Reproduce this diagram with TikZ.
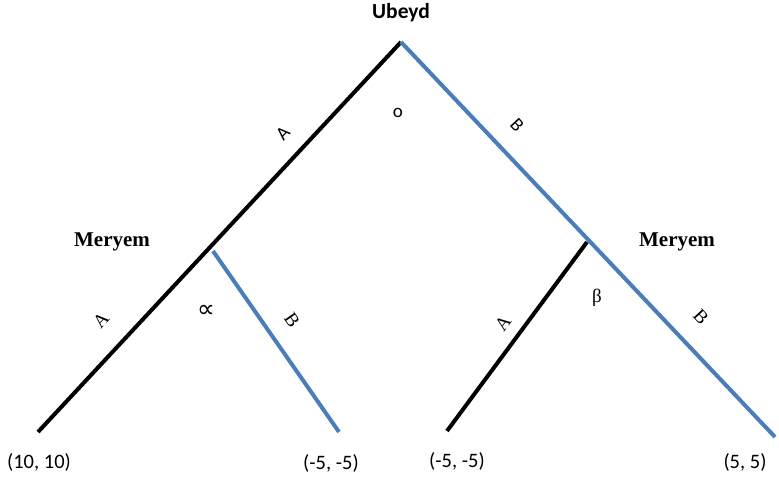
\documentclass[tikz,border=0pt]{standalone}
\usepackage{fontspec}
\setmainfont{Liberation Serif}
\newfontfamily\calib{Carlito}
\newfontfamily\dejavu{DejaVu Sans}
\definecolor{lineblue}{HTML}{4A7EBB}
\begin{document}
\begin{tikzpicture}[x=1pt,y=-1pt,
  blk/.style={line width=4pt,black},
  blu/.style={line width=4pt,lineblue},
  lab/.style={inner sep=0pt,font=\calib\fontsize{19}{22}\selectfont},
  slab/.style={inner sep=0pt,font=\fontsize{19}{22}\selectfont},
  player/.style={inner sep=0pt,font=\bfseries\fontsize{21}{24}\selectfont},
  pay/.style={inner sep=0pt,font=\calib\fontsize{20.5}{24}\selectfont}]
\useasboundingbox (0,0) rectangle (779,480);
\coordinate (root) at (401,42);
\coordinate (mL) at (211,249);
\coordinate (mLb) at (213,251);
\coordinate (mR) at (587,242);
\coordinate (t1) at (38,432);
\coordinate (t2) at (339,432);
\coordinate (t3) at (447,431);
\coordinate (t4) at (775,437);
\draw[blk] (root) -- (t1);
\draw[blu] (root) -- (t4);
\draw[blu] (mLb) -- (t2);
\draw[blk] (mR) -- (t3);
\node[inner sep=0pt,font=\calib\bfseries\fontsize{21.5}{24}\selectfont] (ub) at (401,13) {Ubeyd};
\node[player] (mey1) at (112,242) {Meryem};
\node[player] (mey2) at (677,242) {Meryem};
\node[lab,rotate=47] (a1) at (283,133) {A};
\node[lab] (o) at (398,113) {o};
\node[lab,rotate=-47] (b1) at (517,125) {B};
\node[slab,rotate=47] (a2) at (101,320) {A};
\node[inner sep=0pt,font=\dejavu\fontsize{25}{28}\selectfont] (alpha) at (206,311) {∝};
\node[slab,rotate=-55] (b2) at (292,320) {B};
\node[slab,rotate=53] (a3) at (503,323) {A};
\node[slab] (beta) at (597,298) {β};
\node[slab,rotate=-47] (b3) at (701,317) {B};
\node[pay] (p1) at (39,462) {(10, 10)};
\node[pay] (p2) at (331,463) {(-5, -5)};
\node[pay] (p3) at (457,461) {(-5, -5)};
\node[pay] (p4) at (745,462) {(5, 5)};
\end{tikzpicture}
\end{document}
